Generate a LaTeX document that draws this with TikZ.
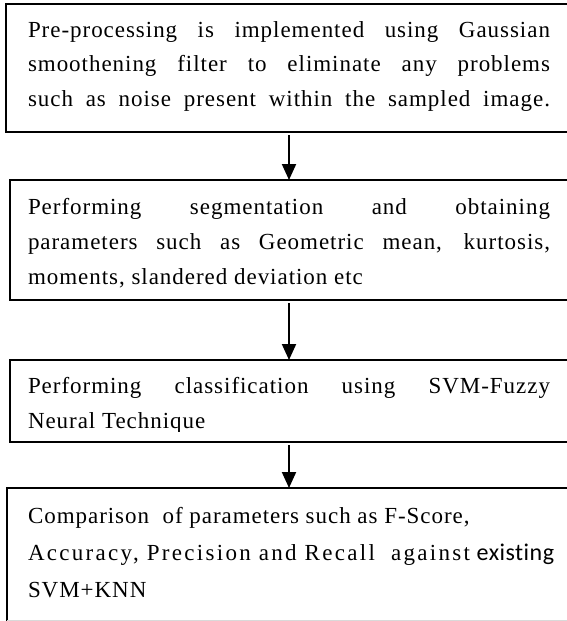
\documentclass[tikz,border=0pt]{standalone}
\usepackage{fontspec}
\setmainfont{Liberation Serif}[LetterSpace=4.2,Ligatures=NoCommon]
\newfontfamily\calfont{Carlito}[LetterSpace=2,Ligatures=NoCommon]
\newfontfamily\widefont{Liberation Serif}[LetterSpace=10,Ligatures=NoCommon]
\usetikzlibrary{arrows.meta}
\newcommand{\jl}[1]{\makebox[522pt][s]{#1}}
\begin{document}
\begin{tikzpicture}[x=1pt,y=-1pt,
  boxnode/.style={draw, line width=2.2pt, anchor=north west, inner sep=0pt, outer sep=0pt},
  txt/.style={anchor=base west, inner sep=0pt, outer sep=0pt},
  arr/.style={line width=2pt, -{Triangle[width=14pt,length=16pt]}}]
\useasboundingbox (0,0) rectangle (567,621);
\clip (0,0) rectangle (567,621);
% boxes
\node[boxnode, minimum width=580pt, minimum height=128pt] (b1) at (6,4) {};
\node[boxnode, minimum width=580pt, minimum height=120pt] (b2) at (10,180) {};
\node[boxnode, minimum width=580pt, minimum height=82pt] (b3) at (10,360) {};
\node[boxnode, minimum width=580pt, minimum height=134pt] (b4) at (7,488) {};
\draw[black!15, line width=1pt] (b4.west |- 0,620) -- (567,620);
% texts
\node[txt] (t1) at (28,37) {\parbox[t]{530pt}{\fontsize{23}{35}\selectfont
  \jl{Pre-processing is implemented using Gaussian}\\
  \jl{smoothening filter to eliminate any problems}\\
  \jl{such as noise present within the sampled image.}}};
\node[txt] (t2) at (28,214) {\parbox[t]{530pt}{\fontsize{23}{35}\selectfont
  \jl{Performing segmentation and obtaining}\\
  \jl{parameters such as Geometric mean, kurtosis,}\\
  moments, slandered deviation etc}};
\begin{scope}
\clip (0,360) rectangle (567,431);
\node[txt] (t3) at (28,393) {\parbox[t]{530pt}{\fontsize{23}{35}\selectfont
  \jl{Performing classification using SVM-Fuzzy}\\
  Neural Technique}};
\end{scope}
\node[txt] (t4) at (28,523) {\parbox[t]{540pt}{\fontsize{23}{37}\selectfont
  Comparison\ \ of parameters such as F-Score,\\
  {\widefont Accuracy, Precision and Recall\ \ against} {\calfont\fontsize{24}{37}\selectfont existing}\\
  SVM+KNN}};
% arrows
\coordinate (ax) at (289,0);
\draw[arr] (b1.south -| ax) ++(0,3) -- (b2.north -| ax);
\draw[arr] (b2.south -| ax) ++(0,3) -- (b3.north -| ax);
\draw[arr] (b3.south -| ax) ++(0,3) -- (b4.north -| ax);
\end{tikzpicture}
\end{document}
